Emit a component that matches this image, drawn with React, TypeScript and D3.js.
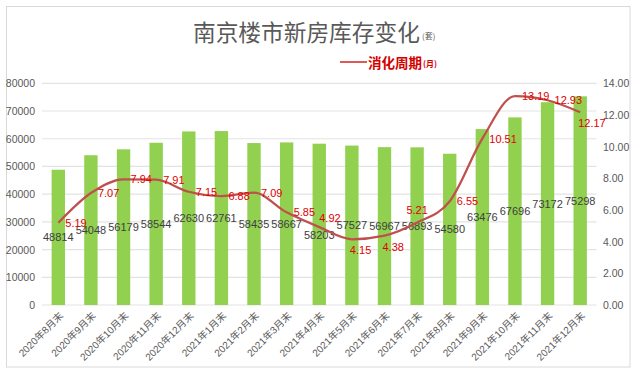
import * as d3 from "d3";

// categories and values
const months = [
  "2020年8月末", "2020年9月末", "2020年10月末", "2020年11月末", "2020年12月末",
  "2021年1月末", "2021年2月末", "2021年3月末", "2021年4月末", "2021年5月末",
  "2021年6月末", "2021年7月末", "2021年8月末", "2021年9月末", "2021年10月末",
  "2021年11月末", "2021年12月末",
];
const stock = [
  48814, 54048, 56179, 58544, 62630, 62761, 58435, 58667, 58203, 57527,
  56967, 56893, 54580, 63476, 67696, 73172, 75298,
];
const cycle = [
  5.19, 7.07, 7.94, 7.91, 7.15, 6.88, 7.09, 5.85, 4.92, 4.15,
  4.38, 5.21, 6.55, 10.51, 13.19, 12.93, 12.17,
];
// where each cycle label sits relative to its point
const cycleLabelSide = [
  "r", "r", "r", "r", "r", "r", "r", "r", "ar", "b",
  "b", "a", "r", "r", "r", "r", "b",
];
// bar labels pushed down where they would hit the line labels
const stockLabelLow = [
  false, false, false, false, false, false, false, false, true, false,
  false, false, false, false, false, false, false,
];
const leftTicks = [0, 10000, 20000, 30000, 40000, 50000, 60000, 70000, 80000];
const rightTicks = [0, 2, 4, 6, 8, 10, 12, 14];

const W = 641;
const H = 374;
const plot = { left: 42, right: 596.5, top: 83.3, bottom: 305 };
const numFont = "Arial, 'Liberation Sans', 'Noto Sans CJK SC', sans-serif";
const cjkFont = "'Noto Sans CJK SC', 'Liberation Sans', sans-serif";

const labelOffset: Record<string, { dx: number; dy: number; anchor: string }> = {
  r: { dx: 7, dy: 0, anchor: "start" },
  ar: { dx: 0, dy: -9, anchor: "start" },
  a: { dx: 0, dy: -12, anchor: "middle" },
  b: { dx: -2, dy: 11, anchor: "start" },
};

export default function App() {
  const x = d3.scaleBand<string>()
    .domain(months)
    .range([plot.left, plot.right])
    .paddingInner(0.59)
    .paddingOuter(0.295);
  const yLeft = d3.scaleLinear().domain([0, 80000]).range([plot.bottom, plot.top]);
  const yRight = d3.scaleLinear().domain([0, 14]).range([plot.bottom, plot.top]);
  const cx = (m: string) => (x(m) ?? 0) + x.bandwidth() / 2;

  const line = d3.line<number>()
    .x((_, i) => cx(months[i]))
    .y(d => yRight(d))
    .curve(d3.curveMonotoneX);

  return (
    <svg width={W} height={H} style={{ position: "absolute", left: 0, top: 0, background: "#fff" }}>
      <rect x={6.5} y={6.5} width={623.5} height={360.5} fill="#fff" stroke="#d9d9d9" />

      {/* title */}
      <text x={193} y={31} dominantBaseline="central" fontFamily={cjkFont} fontSize={22.7} fill="#595959">
        南京楼市新房库存变化
      </text>
      <text x={422} y={35} dominantBaseline="central" fontFamily={cjkFont} fontSize={8} fill="#595959">
        (套)
      </text>

      {/* legend */}
      <line x1={340} x2={367} y1={62} y2={62} stroke="#d42020" strokeWidth={1.5} />
      <text x={368} y={62} dominantBaseline="central" fontFamily={cjkFont} fontSize={13.5} fontWeight="bold" fill="#d40000">
        消化周期
      </text>
      <text x={423} y={63} dominantBaseline="central" fontFamily={cjkFont} fontSize={8} fontWeight="bold" fill="#d40000">
        (月)
      </text>

      {/* gridlines */}
      {leftTicks.map(t => (
        <line key={t} x1={plot.left} x2={plot.right} y1={yLeft(t)} y2={yLeft(t)} stroke="#e3e3e3" strokeWidth={1.2} />
      ))}

      {/* left axis */}
      {leftTicks.map(t => (
        <text key={t} x={35} y={yLeft(t)} dominantBaseline="central" textAnchor="end"
          fontFamily={numFont} fontSize={10.5} fill="#595959">{t}</text>
      ))}
      {/* right axis */}
      {rightTicks.map(t => (
        <text key={t} x={603} y={yRight(t)} dominantBaseline="central" textAnchor="start"
          fontFamily={numFont} fontSize={10.5} fill="#595959">{t.toFixed(2)}</text>
      ))}

      {/* bars */}
      {stock.map((v, i) => (
        <rect key={months[i]} x={x(months[i])} y={yLeft(v)} width={x.bandwidth()}
          height={plot.bottom - yLeft(v)} fill="#92d050" />
      ))}

      {/* bar labels */}
      {stock.map((v, i) => (
        <text key={months[i]} x={cx(months[i])} y={(yLeft(v) + plot.bottom) / 2 + (stockLabelLow[i] ? 11 : 0)}
          dominantBaseline="central" textAnchor="middle" fontFamily={numFont} fontSize={11} fill="#404040">
          {v}
        </text>
      ))}

      {/* cycle line */}
      <path d={line(cycle) ?? ""} fill="none" stroke="#c0504d" strokeWidth={2.25} strokeLinejoin="round" />
      {cycle.map((v, i) => {
        const o = labelOffset[cycleLabelSide[i]];
        return (
          <text key={months[i]} x={cx(months[i]) + o.dx} y={yRight(v) + o.dy} dominantBaseline="central"
            textAnchor={o.anchor} fontFamily={numFont} fontSize={11} fill="#e00000">
            {v.toFixed(2)}
          </text>
        );
      })}

      {/* x labels */}
      {months.map(m => (
        <text key={m} transform={`translate(${cx(m) + 3},${plot.bottom + 9}) rotate(-45)`}
          textAnchor="end" dominantBaseline="central" fontFamily={numFont} fontSize={10} fill="#595959">
          {m}
        </text>
      ))}
    </svg>
  );
}
